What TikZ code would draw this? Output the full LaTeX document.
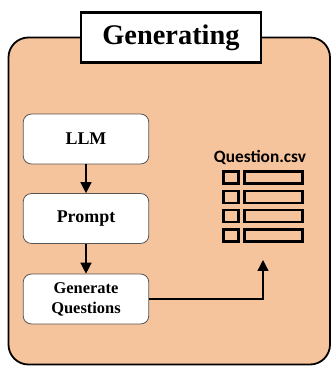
\documentclass[tikz,border=0pt]{standalone}
\usepackage{fontspec}
\setmainfont{Liberation Serif}
\newfontfamily\csvfont{Carlito}
\usetikzlibrary{arrows.meta,positioning,calc}
\definecolor{gen-peach}{HTML}{F6C49C}
\definecolor{gen-border}{HTML}{555555}

\begin{document}
\begin{tikzpicture}[x=3.528mm, y=-3.528mm,
    stepbox/.style={fill=white, draw=gen-border, line width=0.8pt, rounded corners=8pt,
        minimum width=126pt, minimum height=50pt, align=center, font=\fontsize{18}{20}\selectfont\bfseries},
    flow/.style={-{Triangle[length=11pt,width=11pt]}, line width=1.3pt},
    cell/.style={draw=black, line width=2.6pt}]

    \useasboundingbox (0,0) rectangle (33.1,36.6);
    \draw[fill=gen-peach, line width=1.8pt, rounded corners=20pt] (0.85,3.75) rectangle (33.0,36.45);
    \node[fill=white, draw=black, line width=2.6pt, minimum width=181pt, minimum height=50pt,
        font=\fontsize{28.5}{30}\selectfont\bfseries] (title) at (17.1,3.75) {Generating};

    \node[stepbox] (llm) at (8.6,13.9) {LLM};
    \node[stepbox] (prompt) at (8.6,21.85) {Prompt};
    \node[stepbox, font=\fontsize{16.5}{20}\selectfont\bfseries] (genq) at (8.6,29.9) {Generate\\Questions};

    \draw[flow] (llm) -- (prompt);
    \draw[flow] (prompt) -- (genq);

    % csv table icon
    \node[font=\csvfont\fontsize{17.4}{19}\selectfont\bfseries] (csv) at (26.0,15.7) {Question.csv};
    \foreach \r in {0,1,2,3} {
        \draw[cell] (22.35,17.15+1.93*\r) rectangle (23.85,18.35+1.93*\r);
        \draw[cell] (24.45,17.15+1.93*\r) rectangle (30.25,18.35+1.93*\r);
    }

    \coordinate (csvin) at (26.3,26.0);
    \draw[flow, line width=1.3pt] (genq.east) -| (csvin);
\end{tikzpicture}
\end{document}
